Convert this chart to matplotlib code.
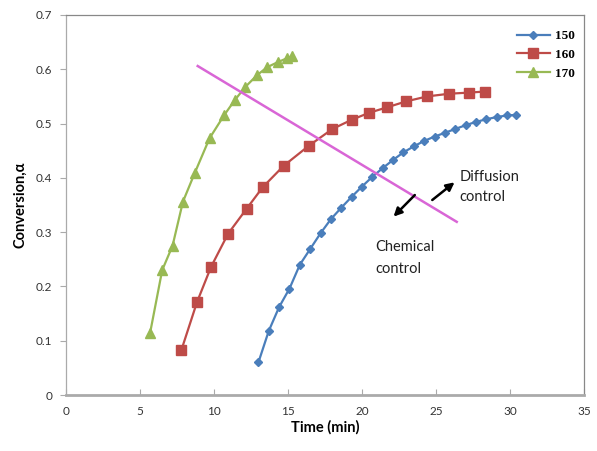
import matplotlib
matplotlib.use("Agg")
import matplotlib.pyplot as plt
from matplotlib.ticker import FuncFormatter, MultipleLocator

# ---- data ----
t150 = [13.0, 13.7, 14.4, 15.1, 15.8, 16.5, 17.2, 17.9, 18.6, 19.3, 20.0, 20.7, 21.4,
        22.1, 22.8, 23.5, 24.2, 24.9, 25.6, 26.3, 27.0, 27.7, 28.4, 29.1, 29.8, 30.4]
c150 = [0.06, 0.118, 0.162, 0.196, 0.24, 0.269, 0.298, 0.324, 0.345, 0.365, 0.384, 0.402, 0.418,
        0.433, 0.447, 0.458, 0.468, 0.476, 0.483, 0.490, 0.497, 0.503, 0.508, 0.512, 0.515, 0.516]

t160 = [7.8, 8.85, 9.8, 10.95, 12.2, 13.3, 14.7, 16.4, 18.0, 19.3, 20.5, 21.7, 23.0, 24.4, 25.9, 27.2, 28.3]
c160 = [0.083, 0.171, 0.236, 0.297, 0.343, 0.383, 0.422, 0.459, 0.49, 0.507, 0.52, 0.53, 0.541, 0.55, 0.555, 0.557, 0.559]

t170 = [5.68, 6.5, 7.2, 7.9, 8.7, 9.7, 10.7, 11.4, 12.1, 12.9, 13.6, 14.3, 14.9, 15.3]
c170 = [0.114, 0.23, 0.275, 0.356, 0.409, 0.473, 0.516, 0.543, 0.567, 0.589, 0.604, 0.613, 0.62, 0.624]

labels = ["150", "160", "170"]

boundary_x = [8.9, 26.4]
boundary_y = [0.606, 0.319]

chem_arrow = [(23.7, 0.372), (22.0, 0.325)]
diff_arrow = [(24.6, 0.356), (26.4, 0.395)]

# ---- figure ----
fig = plt.figure(figsize=(5.97, 4.51), dpi=100)
ax = fig.add_axes([66/597, 1-395/451, (584-66)/597, (395-15)/451])

ax.plot(t150, c150, color="#4a7ebb", marker="D", markersize=4.5, lw=1.6, label=labels[0])
ax.plot(t160, c160, color="#be4b48", marker="s", markersize=6.5, lw=1.6, label=labels[1])
ax.plot(t170, c170, color="#98b954", marker="^", markersize=6.5, lw=1.6, label=labels[2])

ax.plot(boundary_x, boundary_y, color="#d966d6", lw=1.8)

for (s, e) in (chem_arrow, diff_arrow):
    ax.annotate("", xy=e, xytext=s,
                arrowprops=dict(arrowstyle="-|>", color="black", lw=1.8, mutation_scale=12))

tf = dict(fontsize=10.5, family="Lato", color="#222222")
ax.text(26.6, 0.401, "Diffusion", va="center", ha="left", **tf)
ax.text(26.6, 0.364, "control", va="center", ha="left", **tf)
ax.text(20.9, 0.272, "Chemical", va="center", ha="left", **tf)
ax.text(20.9, 0.232, "control", va="center", ha="left", **tf)

ax.set_xlim(0, 35)
ax.set_ylim(0, 0.7)
ax.xaxis.set_major_locator(MultipleLocator(5))
ax.yaxis.set_major_locator(MultipleLocator(0.1))
ax.yaxis.set_major_formatter(FuncFormatter(lambda v, p: "%g" % round(v, 2)))

for sp in ax.spines.values():
    sp.set_color("#888888")
    sp.set_linewidth(0.9)
ax.spines["bottom"].set_color("#aaaaaa")
ax.spines["bottom"].set_linewidth(2)
ax.spines["left"].set_color("#aaaaaa")

ax.tick_params(axis="x", direction="in", length=4, color="#aaaaaa", labelsize=8.5, pad=8)
ax.tick_params(axis="y", direction="out", length=4, color="#aaaaaa", labelsize=8.5, pad=6)
for lab in ax.get_xticklabels() + ax.get_yticklabels():
    lab.set_family("Lato")
    lab.set_color("#333333")

ax.set_xlabel("Time (min)", fontsize=10.5, fontweight="bold", family="Lato", labelpad=2)
ax.set_ylabel("Conversion,α", fontsize=10.5, fontweight="bold", family="Lato", labelpad=6)

leg = ax.legend(loc="upper right", bbox_to_anchor=(1.0, 0.985), frameon=False,
                prop=dict(family="Liberation Serif", weight="bold", size=9.5),
                handlelength=2.5, labelspacing=0.5, handletextpad=0.4, borderaxespad=0.3)

fig.savefig("out.png", dpi=100)
